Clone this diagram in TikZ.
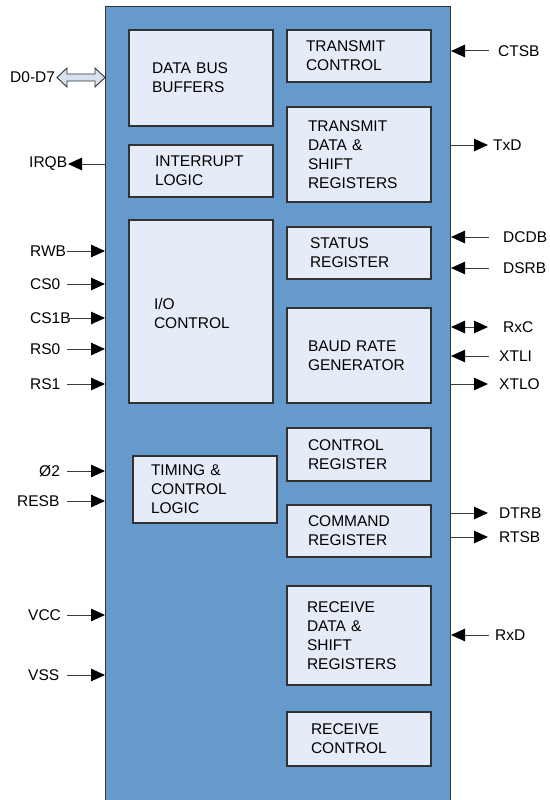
\documentclass[tikz,border=0pt]{standalone}
\usepackage{fontspec}
\setmainfont{Liberation Sans}
\usetikzlibrary{arrows.meta}
\definecolor{chipblue}{RGB}{102,153,204}
\definecolor{boxfill}{RGB}{230,236,247}
\definecolor{edgecol}{RGB}{50,50,50}
\definecolor{wirecol}{RGB}{60,60,60}
\definecolor{busfill}{RGB}{214,226,240}
\begin{document}
\begin{tikzpicture}[x=1pt,y=-1pt,
  every node/.style={font=\fontsize{15.5}{19}\selectfont},
  blk/.style={draw=edgecol, line width=1.1pt, fill=boxfill, align=left, inner ysep=0pt},
  lbl/.style={inner sep=0pt},
  tipA/.tip={Triangle[length=14pt,width=12.5pt,color=black]},
  inpin/.style={draw=wirecol, line width=1pt, -tipA},
  outpin/.style={draw=wirecol, line width=1pt, -tipA},
  bipin/.style={draw=wirecol, line width=1pt, tipA-tipA}]
\useasboundingbox (0,0) rectangle (549,800);
% main chip body
\node[draw=edgecol, fill=chipblue, line width=1pt, anchor=north west, inner sep=0pt,
      minimum width=345pt, minimum height=900pt] (chip) at (105,6) {};

% internal blocks: name, center x, center y, width, height, indent, extra
\newcommand{\blkbox}[7]{%
  \node[blk, minimum width=#4pt, minimum height=#5pt, inner xsep=#6pt,
        text width=#4pt-2*#6pt, #7] (#1) at (#2,#3)}
\blkbox{dbb}{201}{78}{144}{96}{23}{}{DATA BUS\\BUFFERS};
\blkbox{irq}{201}{171}{144}{52}{26}{}{INTERRUPT\\LOGIC};
\blkbox{ioc}{201}{311.5}{144}{183}{25}{text depth=15pt}{I/O\\CONTROL};
\blkbox{tim}{205}{489.5}{144}{67}{18}{}{TIMING \&\\CONTROL\\LOGIC};
\blkbox{txc}{359}{56}{144}{52}{19}{}{TRANSMIT\\CONTROL};
\blkbox{txd}{359}{154.5}{144}{95}{21}{}{TRANSMIT\\DATA \&\\SHIFT\\REGISTERS};
\blkbox{sta}{359}{253}{144}{52}{23}{}{STATUS\\REGISTER};
\blkbox{bau}{359}{355.5}{144}{95}{21}{}{BAUD RATE\\GENERATOR};
\blkbox{ctl}{359}{454.5}{144}{53}{21}{}{CONTROL\\REGISTER};
\blkbox{cmd}{359}{531}{144}{52}{21}{}{COMMAND\\REGISTER};
\blkbox{rxd}{359}{635.5}{144}{99}{20}{}{RECEIVE\\DATA \&\\SHIFT\\REGISTERS};
\blkbox{rxc}{359}{739}{144}{54}{24}{}{RECEIVE\\CONTROL};

% data bus (hollow double arrow)
\node[lbl, anchor=west] (lD) at (10,77.5) {D0-D7};
\coordinate (bus) at (57,77.5);
\draw[draw=edgecol, line width=0.9pt, fill=busfill]
  (bus) -- ++(10,-9.5) -- ++(0,6) -- ++(28,0) -- ++(0,-6)
  -- (bus -| chip.west) -- ++(-10,9.5) -- ++(0,-6) -- ++(-28,0) -- ++(0,6) -- cycle;

% IRQB output
\node[lbl, anchor=west] (lIRQB) at (29,164) {IRQB};
\coordinate (sIRQB) at (68,164);
\draw[outpin] (sIRQB -| chip.west) -- (sIRQB);

% left inputs
\foreach \nm/\txt/\lx/\yy in {RWB/RWB/30/251, CSa/CS0/30/284, CSb/CS1B/30/318,
    RSa/RS0/30/349, RSb/RS1/30/384, PHI/Ø2/39/471, RESB/RESB/17/501,
    VCC/VCC/28/615, VSS/VSS/28/675} {
  \node[lbl, anchor=west] (l\nm) at (\lx,\yy) {\txt};
  \coordinate (s\nm) at (66.5,\yy);
  \draw[inpin] (s\nm) -- (s\nm -| chip.west);
}

% right inputs
\foreach \nm/\txt/\lx/\yy in {CTSB/CTSB/498/51, DCDB/DCDB/503/237, DSRB/DSRB/503/268,
    XTLI/XTLI/499/356, RxD/RxD/495/635} {
  \node[lbl, anchor=west] (l\nm) at (\lx,\yy) {\txt};
  \coordinate (s\nm) at (488.5,\yy);
  \draw[inpin] (s\nm) -- (s\nm -| chip.east);
}
% right outputs
\foreach \nm/\txt/\lx/\yy in {TxD/TxD/493/145, XTLO/XTLO/499/384,
    DTRB/DTRB/499/513, RTSB/RTSB/499/537} {
  \node[lbl, anchor=west] (l\nm) at (\lx,\yy) {\txt};
  \coordinate (s\nm) at (488,\yy);
  \draw[outpin] (s\nm -| chip.east) -- (s\nm);
}
% RxC bidirectional
\node[lbl, anchor=west] (lRxC) at (503,327) {RxC};
\coordinate (sRxC) at (488,327);
\draw[bipin] (sRxC -| chip.east) -- (sRxC);
\end{tikzpicture}
\end{document}
